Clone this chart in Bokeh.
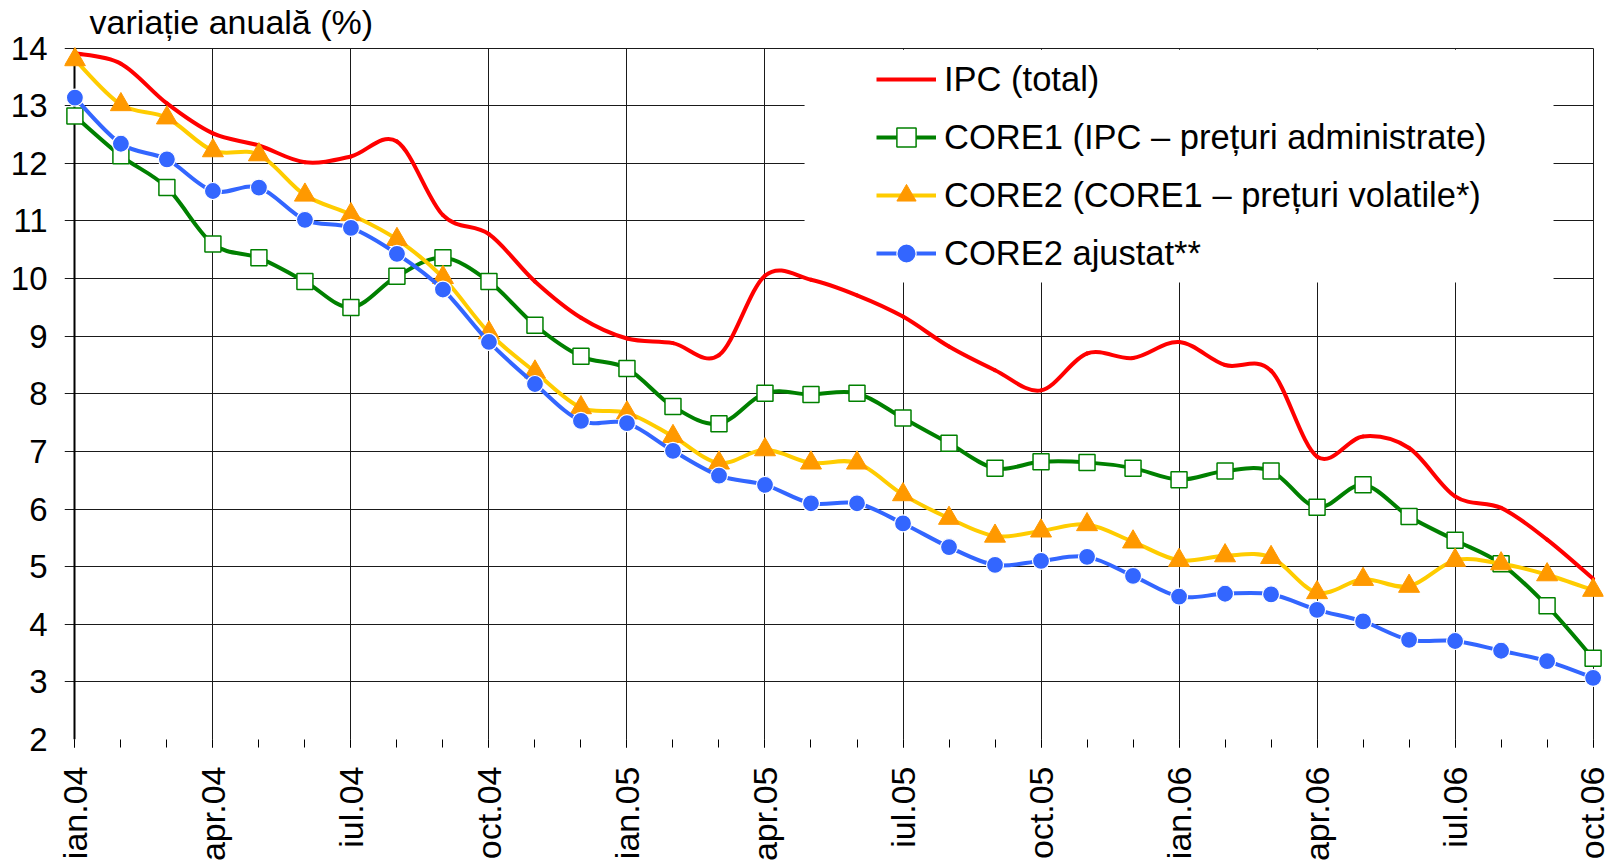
import math
from bokeh.plotting import figure
from bokeh.models import (Range1d, FixedTicker, Legend, LegendItem, Label,
                          BoxAnnotation, Span, Grid, ColumnDataSource)
from bokeh.embed import file_html
from bokeh.resources import INLINE

# ---------------- data ----------------
tick_labels = ["ian.04", "apr.04", "iul.04", "oct.04",
               "ian.05", "apr.05", "iul.05", "oct.05",
               "ian.06", "apr.06", "iul.06", "oct.06"]

ipc = [13.91, 13.73, 13.04, 12.52, 12.31, 12.02, 12.12, 12.38, 11.10, 10.77,
       9.95, 9.32, 8.96, 8.88, 8.67, 10.05, 9.98, 9.71, 9.34, 8.82,
       8.41, 8.06, 8.70, 8.62, 8.90, 8.50, 8.40, 6.91, 7.26, 7.06,
       6.22, 6.02, 5.47, 4.79]

core1 = [12.82, 12.13, 11.58, 10.60, 10.36, 9.95, 9.50, 10.04, 10.36, 9.95,
         9.19, 8.65, 8.44, 7.78, 7.48, 8.01, 7.99, 8.01, 7.58, 7.14,
         6.71, 6.82, 6.81, 6.71, 6.51, 6.66, 6.66, 6.03, 6.42, 5.87,
         5.46, 5.05, 4.32, 3.41]

core2 = [13.80, 13.02, 12.79, 12.22, 12.15, 11.45, 11.11, 10.68, 10.02, 9.06,
         8.38, 7.76, 7.67, 7.26, 6.80, 7.03, 6.80, 6.80, 6.25, 5.84,
         5.53, 5.62, 5.73, 5.43, 5.11, 5.19, 5.16, 4.55, 4.78, 4.66,
         5.11, 5.05, 4.86, 4.59]

core2_adj = [13.14, 12.34, 12.07, 11.52, 11.58, 11.02, 10.88, 10.43, 9.81, 8.90,
             8.17, 7.53, 7.49, 7.01, 6.58, 6.42, 6.10, 6.10, 5.75, 5.34,
             5.03, 5.10, 5.17, 4.84, 4.48, 4.53, 4.52, 4.25, 4.05, 3.73,
             3.71, 3.54, 3.36, 3.07]

series_names = ["IPC (total)",
                "CORE1 (IPC \u2013 pre\u021Buri administrate)",
                "CORE2 (CORE1 \u2013 pre\u021Buri volatile*)",
                "CORE2 ajustat**"]

n = len(ipc)
months = list(range(n))
major = list(range(0, n, 3))
last = n - 1
y_ticks = list(range(2, 15))

FONT = "Liberation Sans"


def smooth_segments(ys):
    """Bezier control points of a smoothed line through the data points
    (the way a spreadsheet 'smoothed line' is rendered)."""
    d = dict(x0=[], y0=[], x1=[], y1=[], cx0=[], cy0=[], cx1=[], cy1=[])
    for i in range(len(ys) - 1):
        ip = max(i - 1, 0)
        inn = min(i + 2, len(ys) - 1)
        d["x0"].append(i)
        d["y0"].append(ys[i])
        d["x1"].append(i + 1)
        d["y1"].append(ys[i + 1])
        d["cx0"].append(i + (i + 1 - ip) / 6.0)
        d["cy0"].append(ys[i] + (ys[i + 1] - ys[ip]) / 6.0)
        d["cx1"].append(i + 1 - (inn - i) / 6.0)
        d["cy1"].append(ys[i + 1] - (ys[inn] - ys[i]) / 6.0)
    return ColumnDataSource(d)


src = ColumnDataSource(dict(m=months, ipc=ipc, c1=core1, c2=core2, c2a=core2_adj))

# frame geometry (pixels)
W, H = 1610, 864
LEFT, RIGHT_B, TOP, BOTTOM_B = 64, W - 1603, 0, H - 740
PX_PER_UNIT = (740 - 47.7) / 12.0
y_end = 2 + (740 - TOP) / PX_PER_UNIT
x_start = -0.226

p = figure(width=W, height=H, output_backend="svg", toolbar_location=None,
           x_range=Range1d(x_start, last + 0.226), y_range=Range1d(2, y_end),
           min_border_left=LEFT, min_border_right=RIGHT_B, min_border_top=TOP,
           min_border_bottom=BOTTOM_B)
p.outline_line_color = None
p.background_fill_color = "white"

GRID_COLOR = "#1a1a1a"
has_cross = "cross_bounds" in Grid.properties()

p.xgrid.ticker = FixedTicker(ticks=major)
p.ygrid.ticker = FixedTicker(ticks=y_ticks)
for g in (p.xgrid, p.ygrid):
    g.grid_line_color = GRID_COLOR
    g.grid_line_width = 1
    g.grid_line_alpha = 1

if has_cross:
    p.xgrid.cross_bounds = (y_ticks[0], y_ticks[-1])
    p.ygrid.cross_bounds = (x_start, last)
    # y axis line at the first month
    p.add_layout(Grid(dimension=0, ticker=FixedTicker(ticks=[0]),
                      cross_bounds=(y_ticks[0], y_ticks[-1]),
                      grid_line_color="black", grid_line_width=2))
else:
    p.add_layout(Span(location=0, dimension="height", line_color="black",
                      line_width=2, level="underlay"))
    p.add_layout(BoxAnnotation(bottom=14.015, fill_color="white", fill_alpha=1,
                               line_alpha=0, level="underlay"))
    p.add_layout(BoxAnnotation(left=last + 0.02, fill_color="white", fill_alpha=1,
                               line_alpha=0, level="underlay"))

# legend area (white, hides grid)
p.add_layout(BoxAnnotation(left=15.86, right=32.14, bottom=9.93, top=13.97,
                           fill_color="white", fill_alpha=1, line_alpha=0,
                           level="underlay"))

# x axis
xa = p.xaxis[0]
xa.ticker = FixedTicker(ticks=major, minor_ticks=months)
xa.major_label_overrides = {m: lab for m, lab in zip(major, tick_labels)}
xa.axis_line_color = None
xa.major_tick_out = 8
xa.major_tick_in = 0
xa.minor_tick_out = 8
xa.minor_tick_in = 0
xa.major_tick_line_color = "black"
xa.minor_tick_line_color = "black"
xa.major_label_orientation = math.pi / 2
xa.major_label_standoff = 19
xa.major_label_text_font = FONT
xa.major_label_text_font_size = "34px"
xa.major_label_text_color = "black"

# y axis
ya = p.yaxis[0]
ya.ticker = FixedTicker(ticks=y_ticks)
ya.axis_line_color = None
ya.major_tick_out = 0
ya.major_tick_in = 0
ya.minor_tick_out = 0
ya.minor_tick_in = 0
ya.major_label_standoff = 17
ya.major_label_text_font = FONT
ya.major_label_text_font_size = "33px"
ya.major_label_text_color = "black"

# series: smoothed lines + markers
colors = ["#FF0000", "#008000", "#FFCC00", "#3366FF"]
cols = ["ipc", "c1", "c2", "c2a"]
values = [ipc, core1, core2, core2_adj]
markers = [None,
           dict(marker="square", size=16, fill_color="white", line_color="#008000", line_width=1.5),
           dict(marker="triangle", size=21, fill_color="#FF9900", line_color="#FF9900", line_width=1),
           dict(marker="circle", size=17, fill_color="#3366FF", line_color="white", line_width=1.2)]

items = []
for name, col, vals, color, mk in zip(series_names, cols, values, colors, markers):
    p.bezier("x0", "y0", "x1", "y1", "cx0", "cy0", "cx1", "cy1",
             source=smooth_segments(vals), line_color=color, line_width=4,
             line_cap="round")
    leg_line = p.line("m", col, source=src, line_color=color, line_width=4,
                      visible=False)
    rends = [leg_line]
    if mk is not None:
        rends.append(p.scatter("m", col, source=src, **mk))
    items.append(LegendItem(label=name, renderers=rends))

legend = Legend(items=items, location=(802, 452), orientation="vertical")
legend.glyph_width = 60
legend.glyph_height = 48
legend.label_height = 48
legend.label_standoff = 8
legend.spacing = 10
legend.padding = 10
legend.margin = 0
legend.label_text_font = FONT
legend.label_text_font_size = "34.5px"
legend.label_text_color = "black"
legend.background_fill_alpha = 0
legend.border_line_alpha = 0
p.add_layout(legend)

# unit title
p.add_layout(Label(x=0.32, y=14.46, text="varia\u021Bie anual\u0103 (%)",
                   text_font=FONT, text_font_size="34px", text_color="black",
                   text_baseline="alphabetic", text_align="left"))

open("out.html", "w").write(file_html(p, INLINE))
